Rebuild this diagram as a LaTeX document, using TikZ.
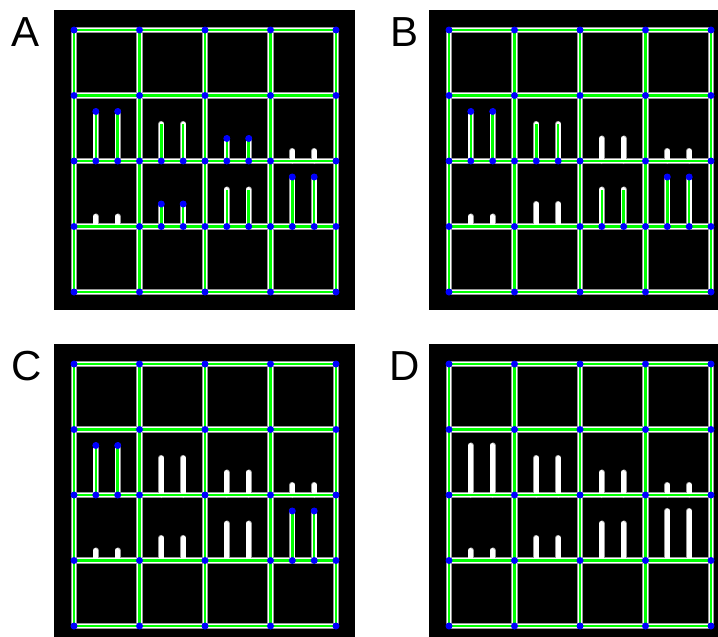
\documentclass[tikz,border=0pt]{standalone}
\usepackage{fontspec}
\setmainfont{Liberation Sans}
\usetikzlibrary{calc}
\definecolor{gridgreen}{RGB}{0,255,0}
\definecolor{dotblue}{RGB}{0,0,255}
\definecolor{edgegray}{RGB}{150,150,150}
\tikzset{
  barout/.style={line width=6.2pt, draw=edgegray},
  barwhite/.style={line width=4.8pt, draw=white},
  bargreen/.style={line width=2.5pt, draw=gridgreen},
  rodout/.style={line width=6.2pt, draw=edgegray, line cap=round},
  rodwhite/.style={line width=4.8pt, draw=white, line cap=round},
  joint/.style={circle, fill=dotblue, inner sep=0pt, minimum size=7pt},
  lab/.style={font=\fontsize{42}{42}\selectfont, anchor=base, inner sep=0pt}
}
\newcommand\drawpanel[4]{%
  \fill[black] (#1,#2) rectangle ++(301,300);
  \foreach \i in {0,...,4}{\foreach \j in {0,...,4}{%
    \coordinate (#3-\i-\j) at ({#1+20+65.5*\i},{#2+20+65.5*\j});}}
  \foreach \t [count=\n from 0] in {#4}{%
    \pgfmathtruncatemacro\r{\n<4 ? 2 : 3}%
    \pgfmathtruncatemacro\c{mod(\n,4)}%
    \pgfmathtruncatemacro\idx{\n<4 ? \c : 3-\c}%
    \pgfmathsetmacro\h{{49.5,37,22.5,10}[\idx]}%
    \foreach \s [count=\m] in {21.8,43.7}{%
      \coordinate (#3-rb-\n-\m) at ($(#3-\c-\r)+(\s,0)$);
      \coordinate (#3-rt-\n-\m) at ($(#3-\c-\r)+(\s,-\h)$);
    }}
  % outlines
  \foreach \k in {0,...,4}{%
    \draw[barout] (#3-0-\k) -- (#3-4-\k);
    \draw[barout] (#3-\k-0) -- (#3-\k-4);}
  \foreach \t [count=\n from 0] in {#4}{\foreach \m in {1,2}{%
    \draw[rodout] (#3-rb-\n-\m) -- (#3-rt-\n-\m);}}
  % white
  \foreach \k in {0,...,4}{%
    \draw[barwhite] (#3-0-\k) -- (#3-4-\k);
    \draw[barwhite] (#3-\k-0) -- (#3-\k-4);}
  \foreach \t [count=\n from 0] in {#4}{\foreach \m in {1,2}{%
    \draw[rodwhite] (#3-rb-\n-\m) -- (#3-rt-\n-\m);}}
  % green
  \foreach \k in {0,...,4}{%
    \draw[bargreen] (#3-0-\k) -- (#3-4-\k);
    \draw[bargreen] (#3-\k-0) -- (#3-\k-4);}
  \foreach \t [count=\n from 0] in {#4}{\foreach \m in {1,2}{%
    \ifnum\t>0 \draw[bargreen] (#3-rb-\n-\m) -- (#3-rt-\n-\m);\fi}}
  % joints
  \foreach \i in {0,...,4}{\foreach \j in {0,...,4}{%
    \node[joint] (#3-d-\i-\j) at (#3-\i-\j) {};}}
  \foreach \t [count=\n from 0] in {#4}{\foreach \m in {1,2}{%
    \ifnum\t>0 \node[joint] (#3-db-\n-\m) at (#3-rb-\n-\m) {};\fi
    \ifnum\t>1 \node[joint] (#3-dt-\n-\m) at (#3-rt-\n-\m) {};\fi}}
}
\begin{document}
\begin{tikzpicture}[x=1pt,y=-1pt]
\useasboundingbox[fill=white] (0,0) rectangle (718,637);
\begin{scope}
\clip (0,0) rectangle (718,637);
\drawpanel{54}{10}{A}{2,1,2,0,0,2,1,2}
\drawpanel{429}{10}{B}{2,1,0,0,0,0,1,2}
\drawpanel{54}{344}{C}{2,0,0,0,0,0,0,2}
\drawpanel{429}{344}{D}{0,0,0,0,0,0,0,0}
\end{scope}
\node[lab] (labA) at (26,46) {A};
\node[lab] (labB) at (405,46) {B};
\node[lab] (labC) at (27,380) {C};
\node[lab] (labD) at (405,380) {D};
\end{tikzpicture}
\end{document}
